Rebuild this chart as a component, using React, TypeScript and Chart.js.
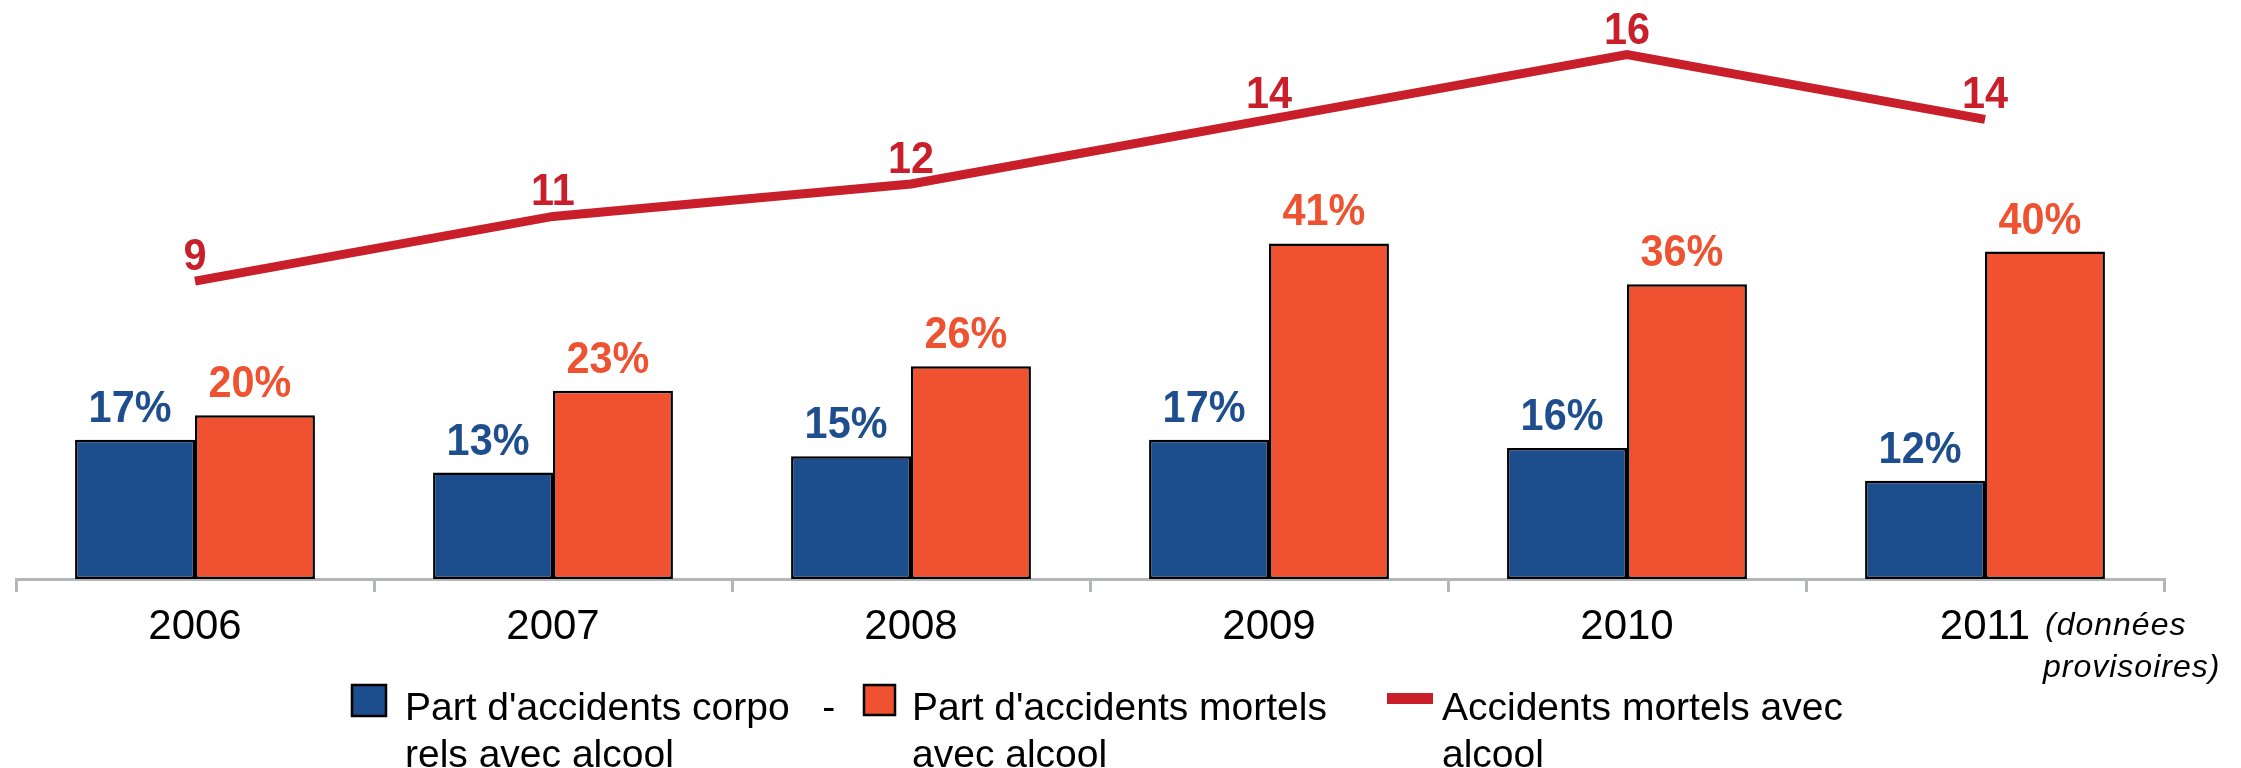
import React, { useEffect, useRef } from "react";
import { Chart, registerables } from "chart.js";

Chart.register(...registerables);

// ---- data ----
const years = ["2006", "2007", "2008", "2009", "2010", "2011"];
const shareInjuryAlcohol = [17, 13, 15, 17, 16, 12];
const shareFatalAlcohol = [20, 23, 26, 41, 36, 40];
const fatalAlcoholCount = [9, 11, 12, 14, 16, 14];
const legendLabels = [
  ["Part d'accidents corpo   -", "rels avec alcool"],
  ["Part d'accidents mortels", "avec alcool"],
  ["Accidents mortels avec", "alcool"],
];
const noteLines = ["(données", "provisoires)"];

// ---- styles ----
const BLUE = "#1C4E8E";
const ORANGE = "#F05130";
const RED = "#C81F2A";
const FONT = "'Liberation Sans', Arial, sans-serif";
const labelColors = ["#1F4E8F", "#EF5230", RED];

const valueLabelPlugin = {
  id: "valueLabels",
  afterDatasetsDraw(chart: any) {
    const ctx = chart.ctx;
    chart.data.datasets.forEach((ds: any, i: number) => {
      const meta = chart.getDatasetMeta(i);
      const isLine = ds.type === "line";
      meta.data.forEach((el: any, j: number) => {
        const v = ds.data[j];
        const text = isLine ? String(v) : v + "%";
        const x = isLine ? el.x : el.x - 5;
        const y = isLine ? el.y - 11 : el.y - 18;
        ctx.save();
        ctx.font = `bold 45px ${FONT}`;
        ctx.fillStyle = labelColors[i];
        ctx.textAlign = "center";
        ctx.textBaseline = "alphabetic";
        ctx.translate(x, y);
        ctx.scale(0.92, 1);
        ctx.fillText(text, 0, 0);
        ctx.restore();
      });
    });
  },
};

const legendPlugin = {
  id: "customLegend",
  afterDraw(chart: any) {
    const ctx = chart.ctx;
    ctx.save();
    const items = [
      { kind: "box", color: BLUE, x: 352, y: 685, w: 34, h: 31, tx: 405 },
      { kind: "box", color: ORANGE, x: 864, y: 685, w: 31, h: 30, tx: 912 },
      { kind: "line", color: RED, x: 1387, y: 693, w: 46, h: 11, tx: 1442 },
    ];
    items.forEach((it, i) => {
      ctx.fillStyle = it.color;
      ctx.fillRect(it.x, it.y, it.w, it.h);
      if (it.kind === "box") {
        ctx.strokeStyle = "#000";
        ctx.lineWidth = 2.5;
        ctx.strokeRect(it.x, it.y, it.w, it.h);
      }
      ctx.fillStyle = "#000";
      ctx.font = `39px ${FONT}`;
      ctx.textAlign = "left";
      ctx.textBaseline = "alphabetic";
      legendLabels[i].forEach((line, k) => {
        ctx.fillText(line, it.tx, 720 + k * 47);
      });
    });
    ctx.font = `italic 32px ${FONT}`;
    (ctx as any).letterSpacing = "1px";
    ctx.fillText(noteLines[0], 2045, 635);
    ctx.fillText(noteLines[1], 2043, 677);
    ctx.restore();
  },
};

export default function App() {
  const canvasRef = useRef<HTMLCanvasElement | null>(null);

  useEffect(() => {
    if (!canvasRef.current) return;
    const chart = new Chart(canvasRef.current, {
      type: "bar",
      data: {
        labels: years,
        datasets: [
          {
            type: "bar",
            label: legendLabels[0].join(" "),
            data: shareInjuryAlcohol,
            backgroundColor: BLUE,
            borderColor: "#000",
            borderWidth: 2.5,
            borderSkipped: false,
            yAxisID: "y",
            categoryPercentage: 0.67,
            barPercentage: 1,
            order: 2,
          },
          {
            type: "bar",
            label: legendLabels[1].join(" "),
            data: shareFatalAlcohol,
            backgroundColor: ORANGE,
            borderColor: "#000",
            borderWidth: 2.5,
            borderSkipped: false,
            yAxisID: "y",
            categoryPercentage: 0.67,
            barPercentage: 1,
            order: 2,
          },
          {
            type: "line",
            label: legendLabels[2].join(" "),
            data: fatalAlcoholCount,
            borderColor: RED,
            backgroundColor: RED,
            borderWidth: 9,
            pointRadius: 0,
            tension: 0,
            borderCapStyle: "butt",
            borderJoinStyle: "miter",
            yAxisID: "y1",
            order: 0,
          },
        ] as any,
      },
      options: {
        responsive: false,
        animation: false,
        devicePixelRatio: 1,
        layout: { padding: { left: 16, right: 77, top: 6, bottom: 0 } },
        plugins: {
          legend: { display: false },
          tooltip: { enabled: false },
          title: { display: false },
        },
        scales: {
          x: {
            offset: true,
            grid: {
              display: true,
              offset: true,
              drawOnChartArea: false,
              drawTicks: true,
              tickLength: 13,
              color: "#B4B6BA",
              lineWidth: 3,
            },
            border: { display: true, color: "#B4B6BA", width: 3 },
            ticks: {
              color: "#000",
              font: { family: FONT, size: 42 },
              padding: 10,
              maxRotation: 0,
              autoSkip: false,
            },
            afterFit: (scale: any) => {
              scale.height = 189;
            },
          },
          y: { display: false, min: 0, max: 70 },
          y1: { display: false, min: -0.2, max: 17.5 },
        },
      } as any,
      plugins: [valueLabelPlugin, legendPlugin],
    });
    return () => chart.destroy();
  }, []);

  return (
    <div style={{ position: "absolute", left: 0, top: 0, width: 2241, height: 768, background: "#fff" }}>
      <canvas ref={canvasRef} width={2241} height={768} />
    </div>
  );
}
